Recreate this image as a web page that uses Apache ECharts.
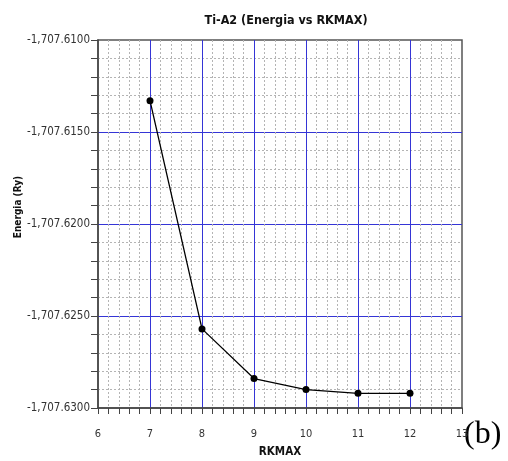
<!DOCTYPE html>
<html>
<head>
<meta charset="utf-8">
<script src="https://cdn.jsdelivr.net/npm/echarts@6/dist/echarts.min.js"></script>
<style>
  html, body { margin: 0; padding: 0; background: #fff; }
  #chart { width: 508px; height: 461px; }
</style>
</head>
<body>
<div id="chart"></div>
<script>
// RKMAX values and total energy (Ry)
var rkmax = [7, 8, 9, 10, 11, 12];
var energia = [-1707.6133, -1707.6257, -1707.6284, -1707.6290, -1707.6292, -1707.6292];
var titulo = 'Ti-A2 (Energia vs RKMAX)';
var nomeX = 'RKMAX';
var nomeY = 'Energia (Ry)';

var fontFam = "'DejaVu Sans Condensed', 'Open Sans', sans-serif";
var blue = '#3535d6';
var gray = '#b4b4b4';
var minorLine = { color: gray, type: [2, 2], width: 1 };

function fmtEnergy(v) {
    var s = Math.abs(v).toFixed(4);
    var parts = s.split('.');
    parts[0] = parts[0].replace(/\B(?=(\d{3})+(?!\d))/g, ',');
    return (v < 0 ? '-' : '') + parts.join('.');
}

var myChart = echarts.init(document.getElementById('chart'));
var option = {
    backgroundColor: '#fff',
    animation: false,
    title: {
        text: titulo,
        left: 281,
        textAlign: 'center',
        top: 9,
        textStyle: { fontFamily: fontFam, fontWeight: 'bold', fontSize: 12.5, color: '#111' }
    },
    // 364 = 7 * 52 px and 368 = 4 * 92 px, so the blue lines sit on even whole pixels
    grid: {
        left: 98, right: 46, top: 40, bottom: 53,
        outerBoundsMode: 'none',
        show: true, borderColor: '#555', borderWidth: 1.5, backgroundColor: 'transparent'
    },
    xAxis: {
        type: 'value',
        min: 6, max: 13, interval: 1,
        name: nomeX,
        nameLocation: 'middle',
        nameGap: 38,
        nameTextStyle: { fontFamily: fontFam, fontWeight: 'bold', fontSize: 11.5, color: '#111' },
        axisLine: { lineStyle: { color: '#444', width: 1.5 } },
        axisTick: { show: true, length: 6, lineStyle: { color: '#444' } },
        minorTick: { show: true, splitNumber: 5, length: 6, lineStyle: { color: '#444' } },
        axisLabel: { fontFamily: fontFam, fontSize: 11, color: '#333', margin: 21 },
        splitLine: { show: true, showMinLine: false, showMaxLine: false, lineStyle: { color: blue, width: 1 } },
        minorSplitLine: { show: true, lineStyle: minorLine }
    },
    yAxis: {
        type: 'value',
        min: -1707.63, max: -1707.61, interval: 0.005,
        axisLine: { show: true, lineStyle: { color: '#444', width: 1.5 } },
        axisTick: { show: true, length: 7, lineStyle: { color: '#444' } },
        minorTick: { show: true, splitNumber: 5, length: 7, lineStyle: { color: '#444' } },
        axisLabel: { fontFamily: fontFam, fontSize: 11.5, color: '#333', margin: 8, formatter: fmtEnergy },
        splitLine: { show: true, showMinLine: false, showMaxLine: false, lineStyle: { color: blue, width: 1 } },
        minorSplitLine: { show: true, lineStyle: minorLine }
    },
    graphic: [{
        type: 'text',
        x: 18, y: 207,
        rotation: Math.PI / 2,
        style: {
            text: nomeY, align: 'center', verticalAlign: 'middle',
            font: "bold 10px 'DejaVu Sans Condensed', sans-serif", fill: '#111'
        }
    }, {
        type: 'text',
        left: 464, top: 419,
        style: { text: '(b)', font: "32px 'Liberation Serif', serif", fill: '#000' }
    }],
    series: [{
        type: 'line',
        z: 3,
        data: rkmax.map(function (x, i) { return [x, energia[i]]; }),
        symbol: 'circle',
        symbolSize: 7,
        itemStyle: { color: '#000' },
        lineStyle: { color: '#000', width: 1.3 }
    }]
};
myChart.setOption(option);
</script>
</body>
</html>
